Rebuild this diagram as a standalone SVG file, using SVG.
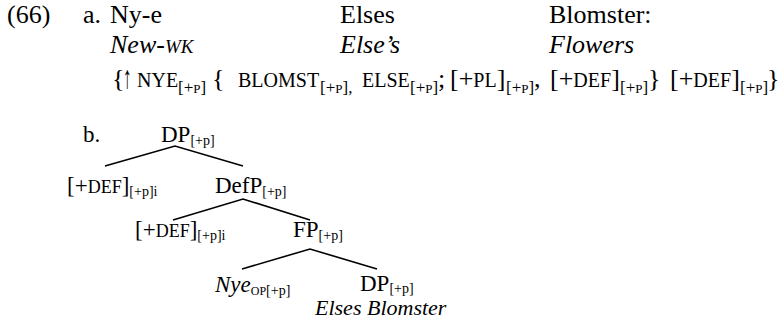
<svg xmlns="http://www.w3.org/2000/svg" width="780" height="322" viewBox="0 0 780 322">
<style>
text{font-family:"Liberation Serif","Times New Roman",serif;fill:#000}
.m{font-size:26px}
.i{font-style:italic}
.sc{font-size:20px}
.sub{font-size:17px}
.sp{font-size:13px}
.t{font-size:23px}
.ts{font-size:14px}
.tso{font-size:12px}
.tsc{font-size:18px}
.edge{stroke:#000;stroke-width:1.6;fill:none}
</style>
<rect width="780" height="322" fill="#fff"/>
<g id="example-a">
<text class="m" x="7" y="23">(66)</text>
<text class="m" x="83" y="23">a.</text>
<text class="m" x="110" y="23">Ny-e</text>
<text class="m" x="340" y="23">Elses</text>
<text class="m" x="549" y="23">Blomster:</text>
<text class="m i" x="110" y="53">New-<tspan font-size="19px">WK</tspan></text>
<text class="m i" x="340" y="53">Else’s</text>
<text class="m i" x="549" y="53">Flowers</text>
<g id="fstructure">
<text class="m" x="112" y="87">{</text>
<text font-size="32px" transform="translate(123,88) scale(0.55,1)" x="0" y="0">↑</text>
<text class="sc" x="137" y="87">NYE</text>
<text class="sub" x="178" y="93">[+<tspan class="sp">P</tspan>]</text>
<text class="m" x="212" y="87">{</text>
<text class="sc" x="238" y="87">BLOMST</text>
<text class="sub" x="320" y="93">[+<tspan class="sp">P</tspan>],</text>
<text class="sc" x="362" y="87">ELSE</text>
<text class="sub" x="410" y="93">[+<tspan class="sp">P</tspan>]</text>
<text class="m" x="438" y="87">;</text>
<text class="m" x="450" y="87">[+<tspan class="sc">PL</tspan>]</text>
<text class="sub" x="506" y="93">[+<tspan class="sp">P</tspan>]</text>
<text class="m" x="534" y="87">,</text>
<text class="m" x="550" y="87">[+<tspan class="sc">DEF</tspan>]</text>
<text class="sub" x="620" y="93">[+<tspan class="sp">P</tspan>]</text>
<text class="m" x="648" y="87">}</text>
<text class="m" x="670" y="87">[+<tspan class="sc">DEF</tspan>]</text>
<text class="sub" x="740" y="93">[+<tspan class="sp">P</tspan>]</text>
<text class="m" x="767" y="87">}</text>
</g>
</g>
<g id="label-b"><text class="t" x="83" y="142">b.</text></g>
<g id="connectors">
<path class="edge" d="M105,166 L175,146 L243,166"/>
<path class="edge" d="M173,220 L243,199 L310,220"/>
<path class="edge" d="M242,269 L310,249 L377,269"/>
</g>
<g id="n-dp-top"><text class="t" x="161" y="142">DP<tspan class="ts" dy="3">[+p]</tspan></text></g>
<g id="n-def1"><text class="t" x="67" y="193">[+<tspan class="tsc">DEF</tspan>]<tspan class="ts" dy="3">[+p]i</tspan></text></g>
<g id="n-defp"><text class="t" x="215" y="193">DefP<tspan class="ts" dy="3">[+p]</tspan></text></g>
<g id="n-def2"><text class="t" x="135" y="237">[+<tspan class="tsc">DEF</tspan>]<tspan class="ts" dy="3">[+p]i</tspan></text></g>
<g id="n-fp"><text class="t" x="293" y="237">FP<tspan class="ts" dy="3">[+p]</tspan></text></g>
<g id="n-nye"><text class="t" x="215" y="292"><tspan class="i">Nye</tspan><tspan class="tso" dy="3">OP</tspan><tspan class="ts">[+p]</tspan></text></g>
<g id="n-dp-low"><text class="t" x="360" y="291">DP<tspan class="ts" dy="2">[+p]</tspan></text><text class="i" font-size="22px" x="315" y="315">Elses Blomster</text></g>
</svg>
